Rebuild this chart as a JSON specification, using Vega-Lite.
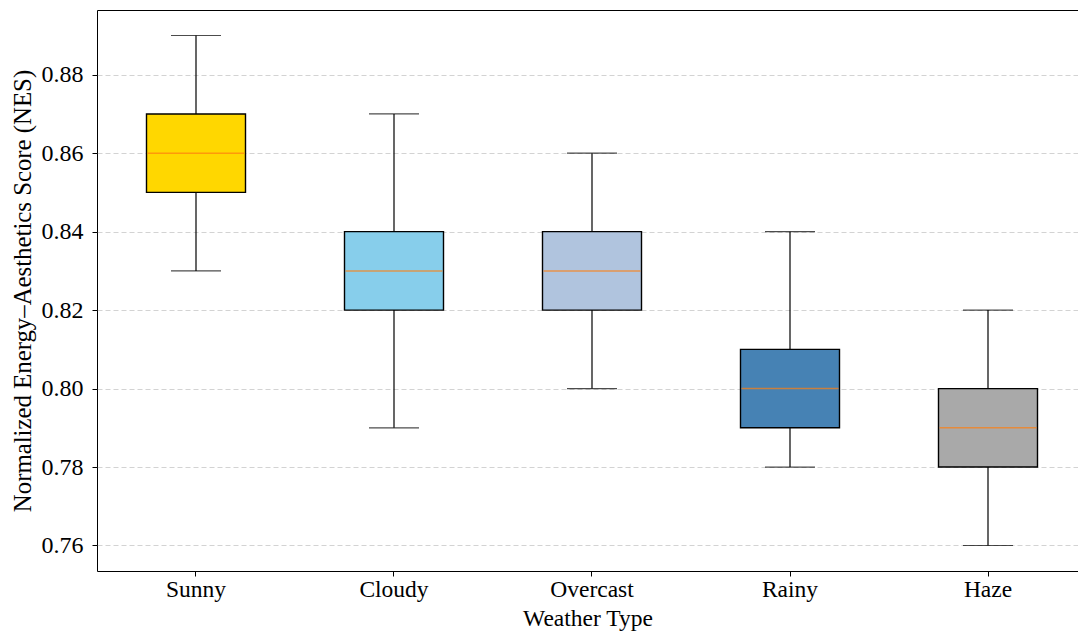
{
  "$schema": "https://vega.github.io/schema/vega-lite/v6.json",
  "autosize": {"type": "none"},
  "padding": {"left": 97, "top": 10, "right": 0, "bottom": 61},
  "width": 981,
  "height": 561,
  "background": "white",
  "config": {
    "view": {"stroke": "#000000", "strokeWidth": 1},
    "font": "Liberation Serif",
    "axis": {
      "labelFont": "Liberation Serif",
      "titleFont": "Liberation Serif",
      "labelFontSize": 23.5,
      "titleFontSize": 23.5,
      "labelColor": "#000000",
      "titleColor": "#000000",
      "titleFontWeight": "normal",
      "tickColor": "#000000",
      "tickSize": 5,
      "tickWidth": 1,
      "domain": false
    }
  },
  "data": {
    "values": [
      {"weather": "Sunny", "min": 0.83, "q1": 0.85, "median": 0.86, "q3": 0.87, "max": 0.89},
      {"weather": "Cloudy", "min": 0.79, "q1": 0.82, "median": 0.83, "q3": 0.84, "max": 0.87},
      {"weather": "Overcast", "min": 0.80, "q1": 0.82, "median": 0.83, "q3": 0.84, "max": 0.86},
      {"weather": "Rainy", "min": 0.78, "q1": 0.79, "median": 0.80, "q3": 0.81, "max": 0.84},
      {"weather": "Haze", "min": 0.76, "q1": 0.78, "median": 0.79, "q3": 0.80, "max": 0.82}
    ]
  },
  "encoding": {
    "x": {
      "field": "weather",
      "type": "nominal",
      "sort": ["Sunny", "Cloudy", "Overcast", "Rainy", "Haze"],
      "scale": {"paddingInner": 0.5, "paddingOuter": 0.22727, "align": 0.55},
      "axis": {"title": "Weather Type", "labelAngle": 0, "labelPadding": 1, "titlePadding": 6, "grid": false}
    }
  },
  "layer": [
    {
      "mark": {"type": "rule", "color": "#000000", "strokeWidth": 1.2},
      "encoding": {
        "y": {
          "field": "min",
          "type": "quantitative",
          "scale": {"domain": [0.7535, 0.8965], "nice": false, "zero": false},
          "axis": {
            "title": "Normalized Energy–Aesthetics Score (NES)",
            "titleFontSize": 24.8,
            "values": [0.76, 0.78, 0.80, 0.82, 0.84, 0.86, 0.88],
            "format": ".2f",
            "labelFontSize": 24,
            "labelPadding": 9,
            "titlePadding": 6,
            "grid": true,
            "gridColor": "#b0b0b0",
            "gridOpacity": 0.7,
            "gridDash": [5, 3],
            "gridWidth": 0.8
          }
        },
        "y2": {"field": "max"}
      }
    },
    {
      "mark": {"type": "tick", "color": "#000000", "size": 50, "thickness": 1.2},
      "encoding": {"y": {"field": "min", "type": "quantitative"}}
    },
    {
      "mark": {"type": "tick", "color": "#000000", "size": 50, "thickness": 1.2},
      "encoding": {"y": {"field": "max", "type": "quantitative"}}
    },
    {
      "mark": {"type": "bar", "stroke": "#000000", "strokeWidth": 1.4},
      "encoding": {
        "y": {"field": "q1", "type": "quantitative"},
        "y2": {"field": "q3"},
        "color": {
          "field": "weather",
          "type": "nominal",
          "scale": {
            "domain": ["Sunny", "Cloudy", "Overcast", "Rainy", "Haze"],
            "range": ["#FFD700", "#87CEEB", "#B0C4DE", "#4682B4", "#A9A9A9"]
          },
          "legend": null
        }
      }
    },
    {
      "mark": {"type": "tick", "color": "#ff7f0e", "size": 97, "thickness": 1.5},
      "encoding": {"y": {"field": "median", "type": "quantitative"}}
    }
  ]
}
